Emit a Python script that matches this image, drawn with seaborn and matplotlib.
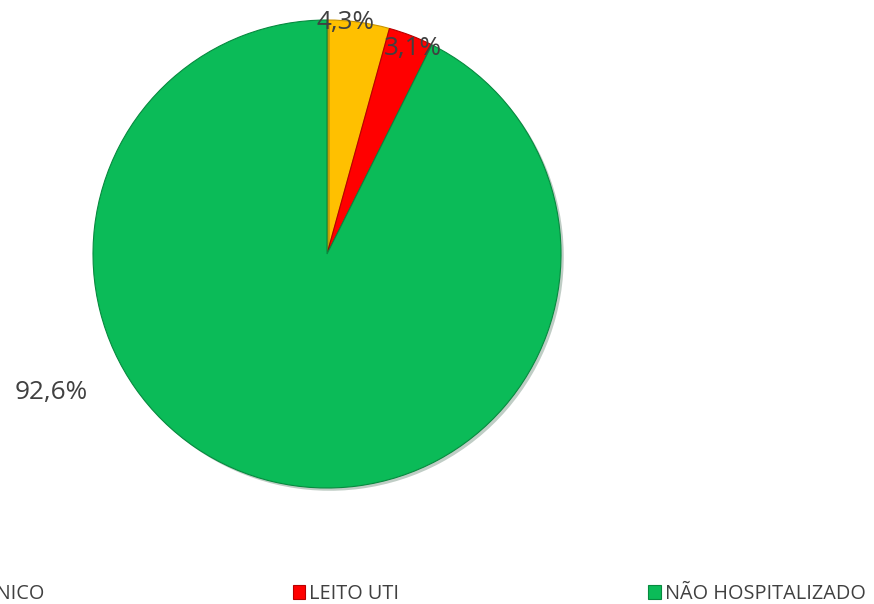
import matplotlib
matplotlib.use("Agg")
import matplotlib.pyplot as plt
import matplotlib.patheffects as pe
from matplotlib.patches import Patch
import seaborn as sns

# data
categorias = ["LEITO CLÍNICO", "LEITO UTI", "NÃO HOSPITALIZADO"]
percentuais = [4.3, 3.1, 92.6]
cores = ["#FFC000", "#FF0000", "#0BBB58"]
bordas = ["#C89400", "#B80000", "#078A3F"]

# label placement (axes data units, pie radius = 1)
label_pos = [(0.077, 0.99), (0.368, 0.877), (-1.18, -0.594)]

sns.set_theme(style="white")
plt.rcParams["font.family"] = ["Open Sans", "DejaVu Sans"]

fig = plt.figure(figsize=(8.74, 6.04), dpi=100)
W, H = 874, 604
cx, cy, r = 327, 254, 234
ax = fig.add_axes([(cx - r) / W, (H - cy - r) / H, 2 * r / W, 2 * r / H])

wedges, texts, autotexts = ax.pie(
    percentuais, colors=cores, startangle=90, counterclock=False,
    autopct=lambda p: f"{p:.1f}%".replace(".", ","),
    wedgeprops=dict(linewidth=0.8),
    textprops=dict(fontsize=18.8, color="#404040"),
)
for w, ec in zip(wedges, bordas):
    w.set_edgecolor(ec)
    w.set_path_effects([pe.SimplePatchShadow(offset=(2, -2), alpha=0.25), pe.Normal()])
for t, pos in zip(autotexts, label_pos):
    t.set_position(pos)
    t.set_ha("center")
    t.set_va("center")
ax.set_xlim(-1, 1)
ax.set_ylim(-1, 1)
ax.set_aspect("equal")
ax.axis("off")

handles = [Patch(facecolor=c, edgecolor=e, linewidth=0.8) for c, e in zip(cores, bordas)]
fig.legend(handles, categorias, ncol=3, frameon=False,
           loc="center left", bbox_to_anchor=(-109 / W, 1 - 594 / H),
           fontsize=14.3, labelcolor="#404040",
           handlelength=0.65, handleheight=0.65, handletextpad=0.2,
           columnspacing=12.5, borderpad=0, borderaxespad=0)

fig.savefig("out.png", dpi=100)
